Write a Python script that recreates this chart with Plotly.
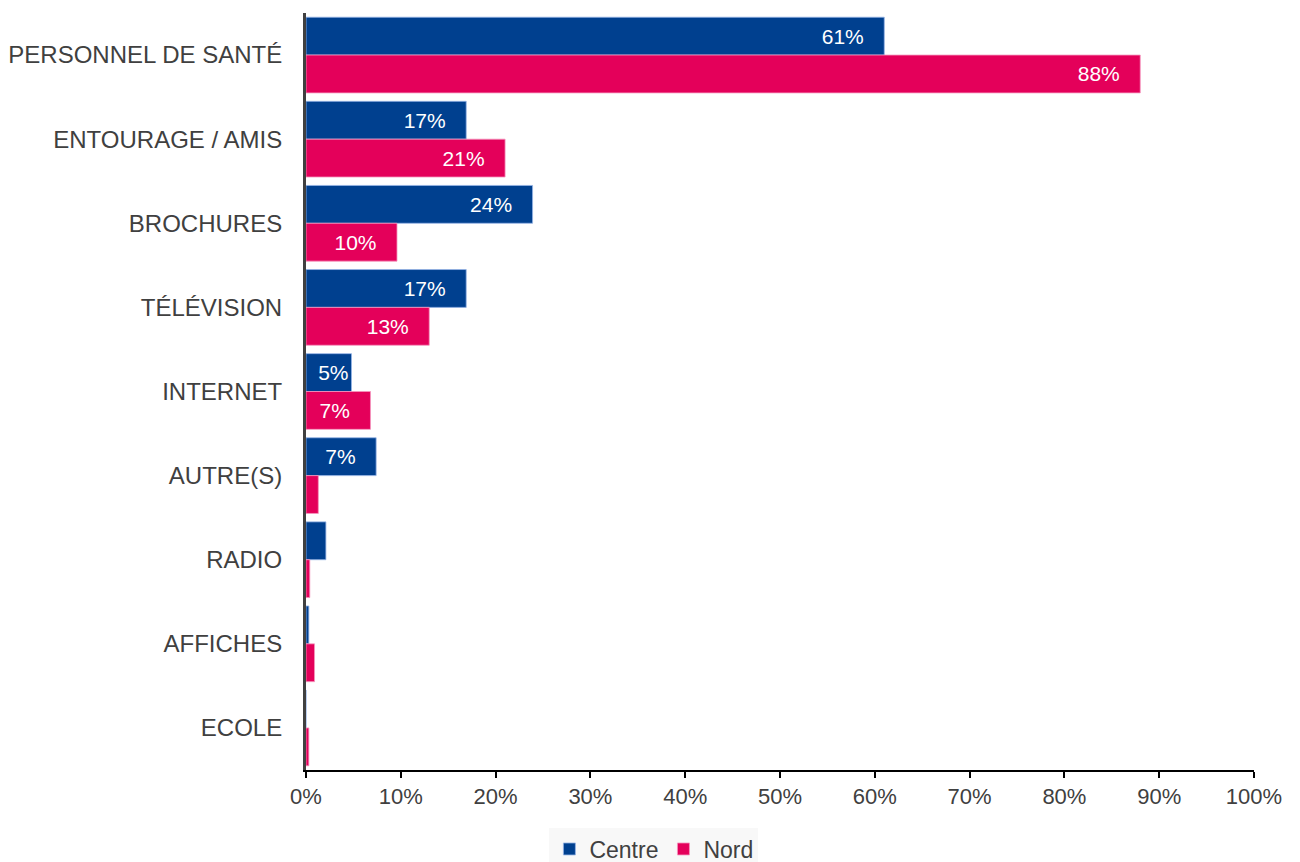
import plotly.graph_objects as go

categories = ["PERSONNEL DE SANTÉ", "ENTOURAGE / AMIS", "BROCHURES", "TÉLÉVISION",
              "INTERNET", "AUTRE(S)", "RADIO", "AFFICHES", "ECOLE"]
centre = [61.0, 16.9, 23.9, 16.9, 4.8, 7.4, 2.1, 0.3, 0.0]
nord = [88.0, 21.0, 9.6, 13.0, 6.8, 1.3, 0.4, 0.9, 0.3]
x_ticks = list(range(0, 101, 10))
x_tick_labels = [f"{t}%" for t in x_ticks]

BLUE = "#00408F"
PINK = "#E4005A"
FONT = "Liberation Sans, Arial, sans-serif"
PAD = "\u00a0\u00a0\u00a0"  # keeps the value labels off the bar ends


def labels(values):
    # only bars wide enough to hold a label get one; narrow ones lose the padding
    out = []
    for v in values:
        if v < 4:
            out.append("")
        elif v < 6:
            out.append(f"{v:.0f}%")
        else:
            out.append(f"{v:.0f}%{PAD}")
    return out


fig = go.Figure()
for name, vals, color, edge in [("Centre", centre, BLUE, "rgba(150,180,230,0.8)"),
                                ("Nord", nord, PINK, "rgba(245,150,190,0.8)")]:
    fig.add_trace(go.Bar(
        y=categories, x=vals, name=name, orientation="h",
        marker=dict(color=color, line=dict(color=edge, width=1)),
        text=labels(vals), textposition="inside", insidetextanchor="end",
        constraintext="none",
        textfont=dict(color="white", size=21, family=FONT),
        cliponaxis=False,
    ))

fig.update_layout(
    width=1300, height=862,
    margin=dict(l=306, r=46, t=13, b=92),
    barmode="group", bargap=0.1, bargroupgap=0,
    plot_bgcolor="white", paper_bgcolor="white",
    font=dict(family=FONT, size=22, color="#404040"),
    legend=dict(orientation="h", x=0.503, xanchor="center", xref="container",
                y=0.04, yanchor="top", yref="container", bgcolor="#F8F8F8",
                font=dict(size=23, color="#404040", family=FONT),
                itemwidth=30, traceorder="normal"),
    xaxis=dict(range=[0, 100], tickvals=x_ticks, ticktext=x_tick_labels,
               showgrid=False, zeroline=False, showline=True,
               linecolor="#000000", linewidth=2, ticks="outside",
               ticklen=6, tickwidth=2, tickcolor="#000000", automargin=False,
               tickfont=dict(size=22, color="#404040", family=FONT)),
    yaxis=dict(autorange="reversed", showgrid=False, zeroline=False,
               showline=True, linecolor="#404040", linewidth=3,
               ticks="", ticklabelstandoff=16, automargin=False,
               tickfont=dict(size=24, color="#404040", family=FONT)),
)

fig.write_html("out.html")
